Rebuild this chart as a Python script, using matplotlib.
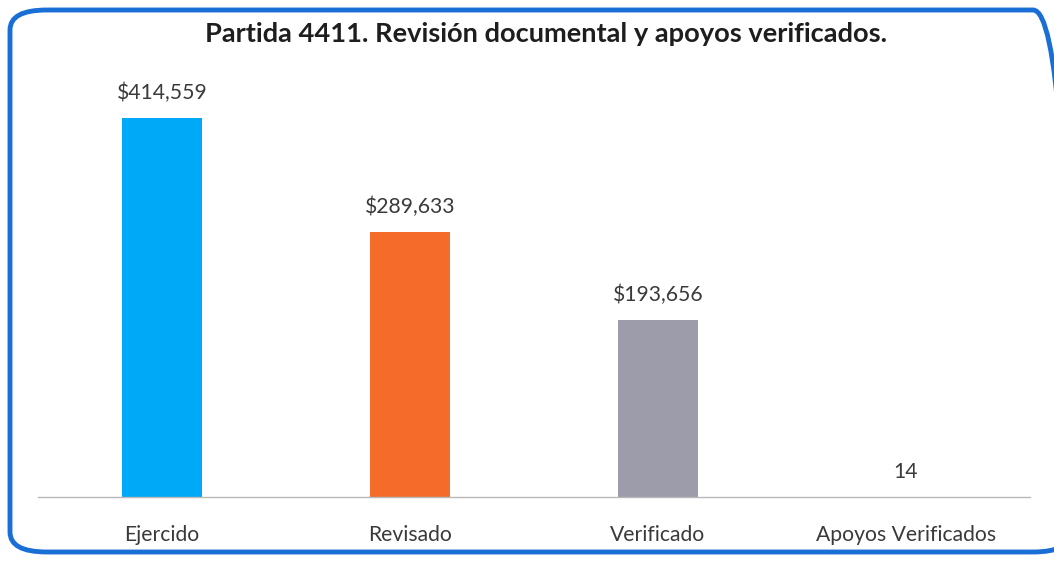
import matplotlib.pyplot as plt
from matplotlib.patches import FancyBboxPatch

categorias = ['Ejercido', 'Revisado', 'Verificado', 'Apoyos Verificados']
valores = [414559, 289633, 193656, 14]
etiquetas = ['$414,559', '$289,633', '$193,656', '14']
colores = ['#00a8f8', '#f56b2a', '#9c9cab', '#9c9cab']

titulo = 'Partida 4411. Revisión documental y apoyos verificados.'

plt.rcParams['font.family'] = ['Lato', 'DejaVu Sans']

fig = plt.figure(figsize=(10.54, 5.68), dpi=100)
fig.patch.set_facecolor('white')

# marco redondeado azul
marco = FancyBboxPatch((10 / 1054, 16 / 568), 1060 / 1054, 542 / 568,
                       boxstyle='round,pad=0,rounding_size=0.035',
                       transform=fig.transFigure, facecolor='none',
                       edgecolor='#1a6fd6', linewidth=3.5, zorder=5)
fig.patches.append(marco)

ax = fig.add_axes([38 / 1054, 71 / 568, 992 / 1054, 417 / 568])
ax.set_facecolor('none')
x = range(len(categorias))
barras = ax.bar(x, valores, width=0.32, color=colores, zorder=2)

ax.set_xlim(-0.5, 3.5)
ax.set_ylim(0, 456000)
for b, et in zip(barras, etiquetas):
    ax.text(b.get_x() + b.get_width() / 2, b.get_height() + 16000, et,
            ha='center', va='bottom', fontsize=15.2, color='#3a3a3a')

ax.set_xticks(list(x))
ax.set_xticklabels(categorias, fontsize=15.2, color='#3a3a3a')
ax.tick_params(axis='x', length=0, pad=20)
ax.set_yticks([])
for lado in ['top', 'right', 'left']:
    ax.spines[lado].set_visible(False)
ax.spines['bottom'].set_color('#b8b8b8')
ax.spines['bottom'].set_linewidth(1)

fig.text(546 / 1054, 1 - 34 / 568, titulo, ha='center', va='center', fontsize=19.6,
         fontweight='bold', color='#1e1e1e')

fig.savefig('out.png', dpi=100)
